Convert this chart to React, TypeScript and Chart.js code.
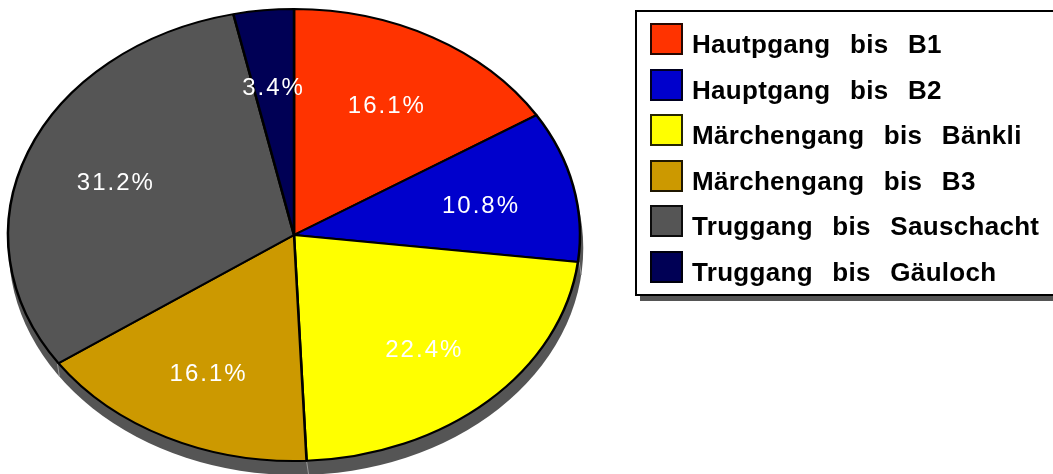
import React, { useEffect, useRef } from "react";
import { Chart, registerables } from "chart.js";

Chart.register(...registerables);

// ---- data ----
const categories = [
  "Hautpgang bis B1",
  "Hauptgang bis B2",
  "Märchengang bis Bänkli",
  "Märchengang bis B3",
  "Truggang bis Sauschacht",
  "Truggang bis Gäuloch",
];
const shares = [16.1, 10.8, 22.4, 16.1, 31.2, 3.4];
const sliceColors = ["#FF3300", "#0000CC", "#FFFF00", "#CC9900", "#555555", "#000055"];

// ---- styling ----
const W = 1053;
const H = 474;
const STRETCH_X = 286 / 226; // pie drawn as an ellipse
const SHADOW_DX = 2;
const SHADOW_DY = 13;
const LABEL_FRACTION = 0.67;
const FONT = '"Liberation Sans", Arial, Helvetica, sans-serif';

const ellipsePie = {
  id: "ellipsePie",
  beforeDatasetsDraw(chart: any) {
    const meta = chart.getDatasetMeta(0);
    const first = meta.data[0];
    if (!first) return;
    const { x, y, outerRadius } = first.getProps(["x", "y", "outerRadius"], true);
    const ctx = chart.ctx;
    ctx.save();
    ctx.translate(x, y);
    ctx.scale(STRETCH_X, 1);
    ctx.translate(-x, -y);
    // drop shadow / side of the pie
    ctx.fillStyle = "#555555";
    ctx.beginPath();
    ctx.arc(x + SHADOW_DX / STRETCH_X, y + SHADOW_DY, outerRadius + 1, 0, Math.PI * 2);
    ctx.fill();
    // faint separators on the side wall
    ctx.strokeStyle = "#9a9a9a";
    ctx.lineWidth = 0.8;
    meta.data.forEach((arc: any) => {
      const { startAngle } = arc.getProps(["startAngle"], true);
      const sy = Math.sin(startAngle);
      if (sy > 0.05) {
        const px = x + Math.cos(startAngle) * (outerRadius + 1);
        const py = y + sy * (outerRadius + 1);
        ctx.beginPath();
        ctx.moveTo(px, py);
        ctx.lineTo(px + SHADOW_DX / STRETCH_X, py + SHADOW_DY);
        ctx.stroke();
      }
    });
  },
  afterDatasetsDraw(chart: any) {
    const ctx = chart.ctx;
    ctx.restore();
    const meta = chart.getDatasetMeta(0);
    const values = chart.data.datasets[0].data as number[];
    ctx.save();
    ctx.font = `24px ${FONT}`;
    (ctx as any).letterSpacing = "2px";
    ctx.fillStyle = "#ffffff";
    ctx.textAlign = "center";
    ctx.textBaseline = "alphabetic";
    meta.data.forEach((arc: any, i: number) => {
      const { x, y, startAngle, endAngle, outerRadius } = arc.getProps(
        ["x", "y", "startAngle", "endAngle", "outerRadius"],
        true
      );
      const mid = (startAngle + endAngle) / 2;
      const lx = x + Math.cos(mid) * outerRadius * LABEL_FRACTION * STRETCH_X;
      const ly = y + Math.sin(mid) * outerRadius * LABEL_FRACTION;
      ctx.fillText(values[i].toFixed(1) + "%", lx, ly + 10.8);
    });
    ctx.restore();
  },
};

function Legend() {
  return (
    <div
      style={{
        position: "absolute",
        left: 635,
        top: 10,
        width: 440,
        height: 286,
        boxSizing: "border-box",
        border: "2px solid #000",
        background: "#fff",
        boxShadow: "5px 5px 0 #555555",
      }}
    >
      {categories.map((c, i) => (
        <React.Fragment key={c}>
          <div
            style={{
              position: "absolute",
              left: 13,
              top: 11.3 + i * 45.5,
              width: 33,
              height: 32,
              boxSizing: "border-box",
              border: "2px solid rgba(0,0,0,0.85)",
              background: sliceColors[i],
            }}
          />
          <span
            style={{
              position: "absolute",
              left: 55,
              top: 17.3 + i * 45.5,
              fontFamily: FONT,
              fontWeight: "bold",
              fontSize: 26,
              lineHeight: "30px",
              letterSpacing: "0.3px",
              wordSpacing: "12px",
              whiteSpace: "nowrap",
              color: "#000",
            }}
          >
            {c}
          </span>
        </React.Fragment>
      ))}
    </div>
  );
}

export default function App() {
  const ref = useRef<HTMLCanvasElement | null>(null);
  useEffect(() => {
    if (!ref.current) return;
    const chart = new Chart(ref.current, {
      type: "pie",
      data: {
        labels: categories,
        datasets: [
          {
            data: shares,
            backgroundColor: sliceColors,
            borderColor: "#000000",
            borderWidth: 2,
            hoverOffset: 0,
          },
        ],
      },
      options: {
        responsive: false,
        animation: false,
        events: [],
        layout: { padding: { left: 67, right: 532, top: 8, bottom: 12 } },
        plugins: {
          legend: { display: false },
          tooltip: { enabled: false },
        },
      },
      plugins: [ellipsePie],
    });
    return () => chart.destroy();
  }, []);
  return (
    <div
      style={{
        position: "fixed",
        left: 0,
        top: 0,
        width: W,
        height: H,
        overflow: "hidden",
        background: "#fff",
      }}
    >
      <canvas ref={ref} width={W} height={H} style={{ position: "absolute", left: 0, top: 0, width: W, height: H }} />
      <Legend />
    </div>
  );
}
